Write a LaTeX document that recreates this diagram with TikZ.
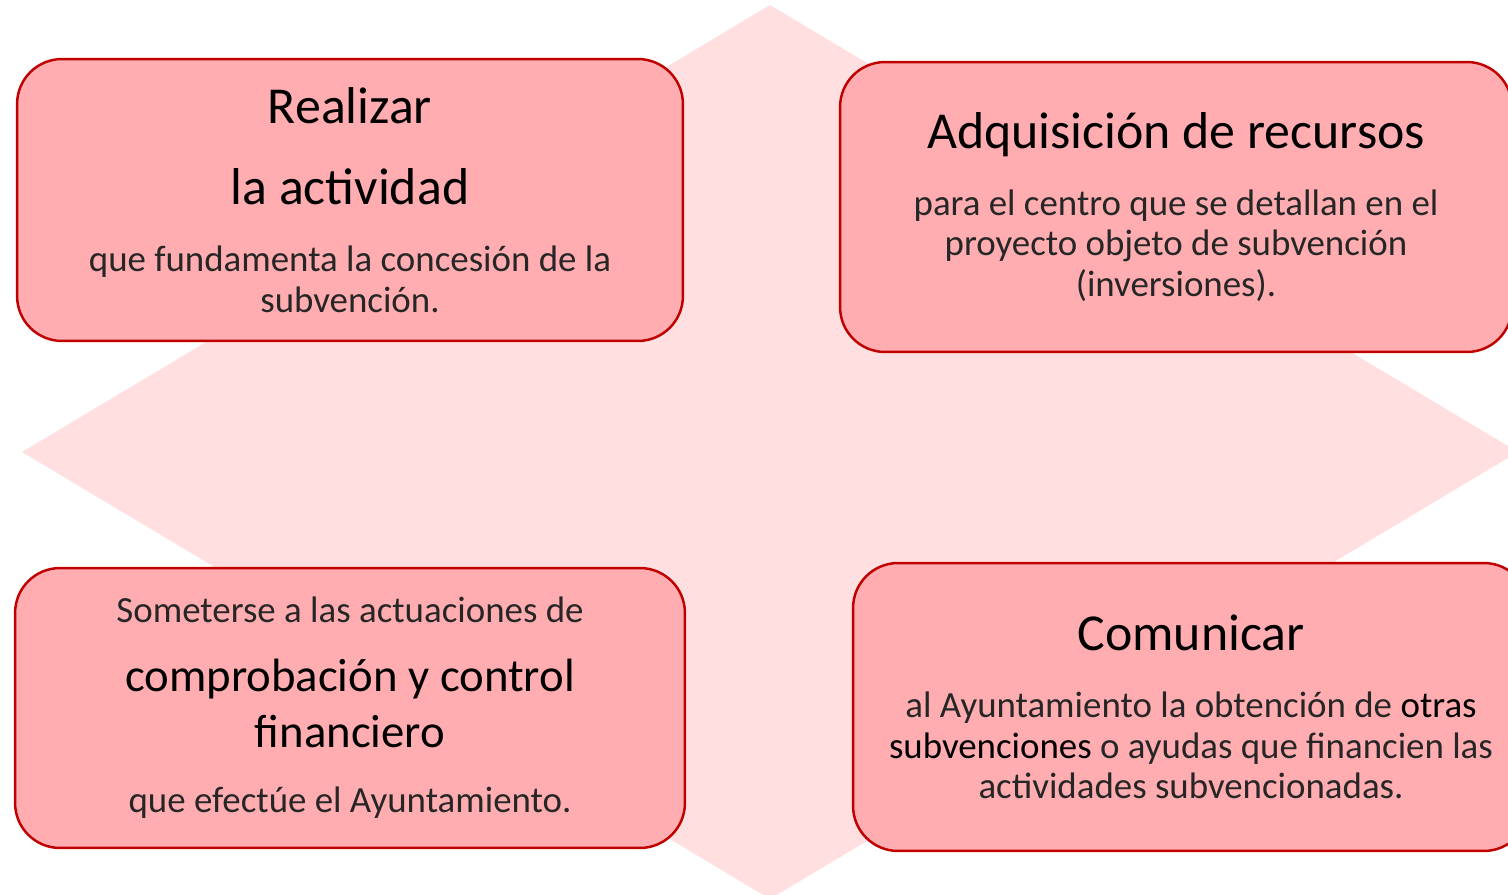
\documentclass[tikz,border=0pt]{standalone}
\usepackage{fontspec}
\setmainfont{Carlito}
\definecolor{rombo}{RGB}{255,223,224}
\definecolor{relleno}{RGB}{255,173,176}
\definecolor{borde}{RGB}{192,0,0}
\newcommand{\titulo}[1]{{\fontsize{29.5}{36}\selectfont\color{black}#1}}
\newcommand{\fuentecaja}{\fontsize{21}{23.2}\selectfont\lineskiplimit=-100pt\relax}
\begin{document}
\begin{tikzpicture}[x=0.02cm, y=-0.02cm,
    caja/.style = {draw=borde, fill=relleno, line width=1.4pt, rounded corners=0.9cm,
        minimum width=13.4cm, minimum height=5.7cm, inner sep=0pt, align=center,
        text=black!85, font=\fuentecaja}]
    \useasboundingbox (0,0) rectangle (1508,895);
    \fill[rombo] (770,5) -- (1518,452) -- (770,899) -- (22,452) -- cycle;
    \node[caja, minimum width=13.32cm, minimum height=5.64cm] (realizar) at (350,200)
        {\titulo{Realizar}\\[23.3pt] \titulo{la actividad}\\[14.8pt]
         que fundamenta la concesión de la\\ subvención.};
    \node[caja, minimum width=13.44cm, minimum height=5.8cm] (adquisicion) at (1176,207)
        {\titulo{Adquisición de recursos}\\[14.8pt]
         para el centro que se detallan en el\\ proyecto objeto de subvención\\ (inversiones).};
    \node[caja, minimum height=5.6cm] (someterse) at (350,708)
        {Someterse a las actuaciones de\\[15.9pt]
         {\fontsize{26.6}{30}\selectfont\color{black}comprobación y control}\\[8.5pt]
         {\fontsize{26.6}{30}\selectfont\color{black}financiero}\\[14.2pt]
         que efectúe el Ayuntamiento.};
    \node[caja, minimum width=13.52cm, minimum height=5.76cm] (comunicar) at (1191,707)
        {\titulo{Comunicar}\\[14.8pt]
         al Ayuntamiento la obtención de {\color{black}otras}\\
         {\color{black}subvenciones} o ayudas que financien las\\ actividades subvencionadas.};
\end{tikzpicture}
\end{document}
